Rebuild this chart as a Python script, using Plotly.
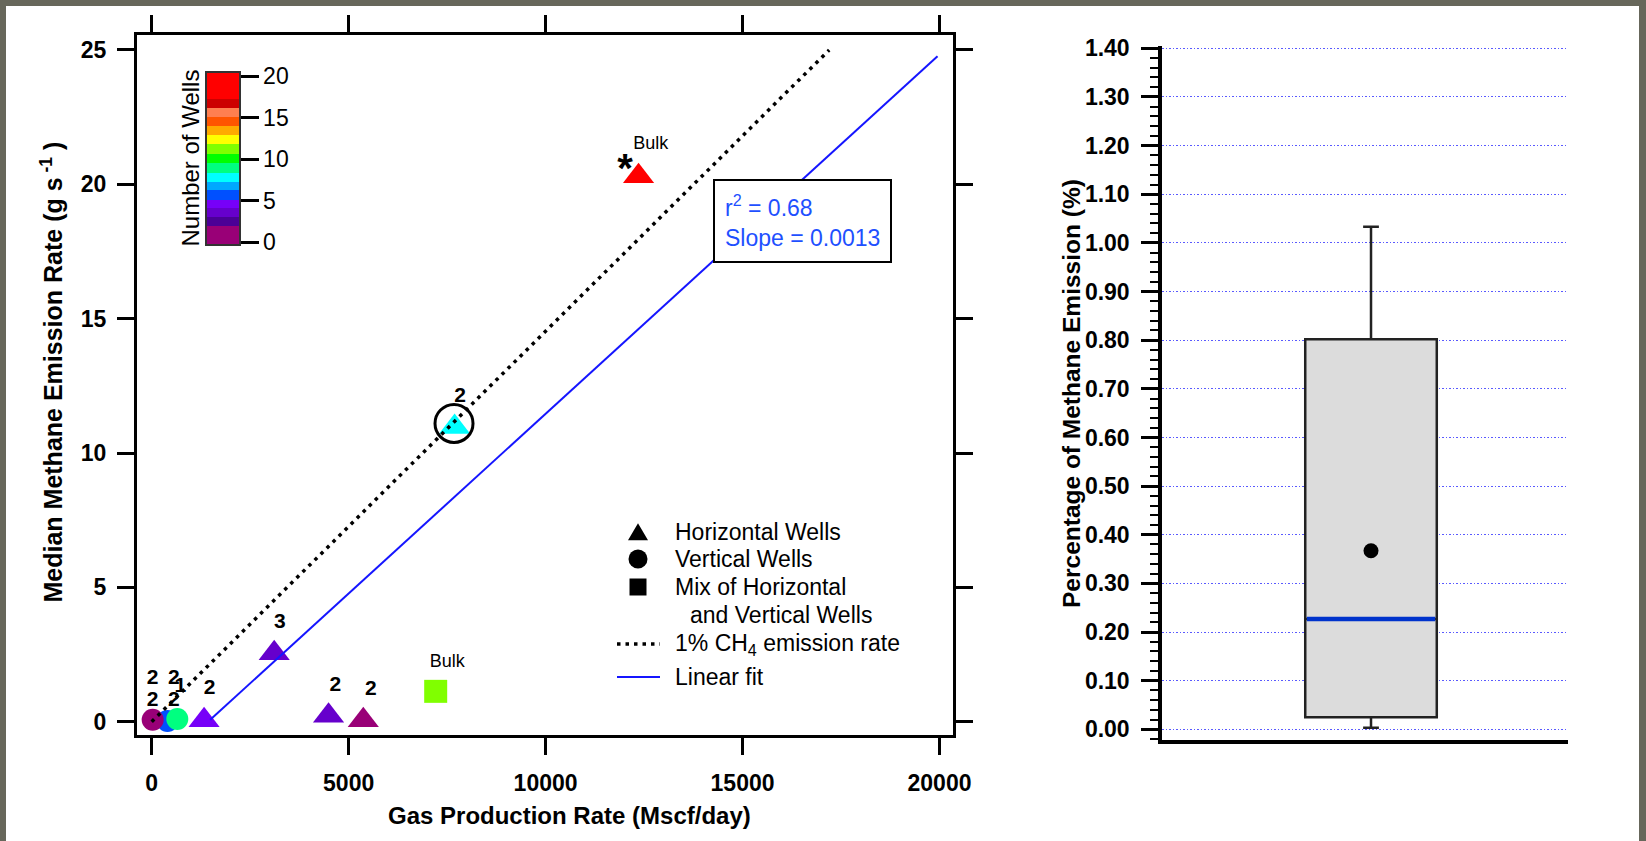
import plotly.graph_objects as go

W, H = 1646, 841


def px(x):
    return x / W


def py(y):
    return 1 - y / H


# ---------------- data (left panel) ----------------
# horizontal wells (triangles)
tri_x = [12360, 7690, 3110, 1330, 4490, 5372]
tri_y = [20.3, 10.97, 2.55, 0.05, 0.22, 0.05]
tri_wells = [20, 8, 4, 5, 4, 1]

# vertical wells (circles)
circ_x = [400, 25, 650]
circ_y = [0.03, 0.07, 0.10]
circ_wells = [6, 1, 9]

# mix of horizontal and vertical wells (squares)
sq_x = [7210]
sq_y = [1.13]
sq_wells = [11]

# highlighted point (open circle)
hl_x = [7675]
hl_y = [11.1]

# 1% CH4 emission line and linear fit
pct_x = [0, 17200]
pct_y = [0, 25]
fit_x = [1485, 19950]
fit_y = [0.07, 24.77]

# count labels above points
count_text = ['2', '2', '2', '2', '1', '2', '3', '2', '2', '2']
count_x = [20, 561, 20, 561, 726, 1472, 3252, 4661, 5563, 7827]
count_y = [1.60, 1.60, 0.78, 0.78, 1.29, 1.22, 3.69, 1.34, 1.18, 12.1]

bulk_text = ['Bulk', 'Bulk']
bulk_x = [12671, 7502]
bulk_y = [21.48, 2.20]

star_x = [12016]
star_y = [20.45]

x_ticks = [0, 5000, 10000, 15000, 20000]
y_ticks = [0, 5, 10, 15, 20, 25]
cb_ticks = [0, 5, 10, 15, 20]

fit_r2 = 0.68
fit_slope = 0.0013

# ---------------- data (right panel: box) ----------------
box_q1 = 0.025
box_median = 0.227
box_q3 = 0.802
box_low = 0.003
box_high = 1.033
box_mean = 0.367

# ---------------- styles ----------------
FONT = "Liberation Sans, Arial, sans-serif"
band_edges = [0, 0.107, 0.162, 0.214, 0.263, 0.316, 0.366, 0.419, 0.474,
              0.526, 0.581, 0.634, 0.686, 0.741, 0.793, 0.842, 1.0]
band_colors = ['#990077', '#4b0096', '#6600cc', '#7700f8', '#0050ff', '#00a8ff',
               '#00ffff', '#00ff80', '#00ff00', '#80ff00', '#ffff00', '#ffaa00',
               '#ff5500', '#ff7f50', '#cc0000', '#ff0000']
colorscale = []
for i, c in enumerate(band_colors):
    colorscale.append([band_edges[i], c])
    colorscale.append([band_edges[i + 1], c])

fig = go.Figure()

mk = dict(coloraxis='coloraxis', line=dict(width=0))
fig.add_trace(go.Scatter(x=circ_x, y=circ_y, mode='markers', showlegend=False,
                         marker=dict(symbol='circle', size=22, color=circ_wells, **mk)))
fig.add_trace(go.Scatter(x=tri_x, y=tri_y, mode='markers', showlegend=False,
                         marker=dict(symbol='triangle-up', size=27, color=tri_wells, **mk)))
fig.add_trace(go.Scatter(x=sq_x, y=sq_y, mode='markers', showlegend=False,
                         marker=dict(symbol='square', size=23, color=sq_wells, **mk)))
fig.add_trace(go.Scatter(x=hl_x, y=hl_y, mode='markers', showlegend=False,
                         marker=dict(symbol='circle-open', size=38, color='black',
                                     line=dict(width=3, color='black'))))
fig.add_trace(go.Scatter(x=pct_x, y=pct_y, mode='lines', showlegend=False,
                         line=dict(color='black', width=3.5, dash='3.5px,5px')))
fig.add_trace(go.Scatter(x=fit_x, y=fit_y, mode='lines', showlegend=False,
                         line=dict(color='#1515ff', width=2)))
fig.add_trace(go.Scatter(x=count_x, y=count_y, mode='text', text=count_text, showlegend=False,
                         textposition='middle center',
                         textfont=dict(family=FONT, size=21, weight='bold', color='black')))
fig.add_trace(go.Scatter(x=bulk_x, y=bulk_y, mode='text', text=bulk_text, showlegend=False,
                         textposition='middle center',
                         textfont=dict(family=FONT, size=18, color='black')))
fig.add_trace(go.Scatter(x=star_x, y=star_y, mode='text', text=['*'], showlegend=False,
                         textposition='middle center',
                         textfont=dict(family=FONT, size=40, weight='bold', color='black')))

# ---------------- right panel ----------------
box_width = 0.324
fig.add_trace(go.Box(x=[0], q1=[box_q1], median=[box_median], q3=[box_q3],
                     lowerfence=[box_low], upperfence=[box_high],
                     width=box_width, whiskerwidth=0.12, boxpoints=False,
                     fillcolor='#dcdcdc', line=dict(color='#222222', width=2.5),
                     xaxis='x2', yaxis='y2', showlegend=False, hoverinfo='skip'))
fig.add_trace(go.Scatter(x=[-box_width / 2 + 0.004, box_width / 2 - 0.004],
                         y=[box_median, box_median], mode='lines',
                         line=dict(color='#0033cc', width=4.5),
                         xaxis='x2', yaxis='y2', showlegend=False))
fig.add_trace(go.Scatter(x=[0], y=[box_mean], mode='markers',
                         marker=dict(color='black', size=15),
                         xaxis='x2', yaxis='y2', showlegend=False))

# ---------------- layout ----------------
tickfont_b = dict(family=FONT, size=23, weight='bold', color='black')
ax_common = dict(showline=True, linewidth=3, linecolor='black', mirror='allticks',
                 ticks='outside', ticklen=17, tickwidth=3, tickcolor='black',
                 showgrid=False, zeroline=False, tickfont=tickfont_b, automargin=False)

fig.update_layout(
    width=W, height=H, margin=dict(l=0, r=0, t=0, b=0, autoexpand=False),
    paper_bgcolor='#67675b', plot_bgcolor='rgba(0,0,0,0)',
    showlegend=False,
    xaxis=dict(domain=[px(137), px(953)], range=[-373, 20343], tickvals=x_ticks,
               tickformat='d', ticklabelstandoff=8, anchor='y', **ax_common),
    yaxis=dict(domain=[py(735), py(35)], range=[-0.495, 25.558], tickvals=y_ticks,
               ticklabelstandoff=6, anchor='x', **ax_common),
    xaxis2=dict(domain=[px(1162), px(1568)], range=[-0.5148, 0.4852], anchor='y2',
                showline=True, linewidth=3.5, linecolor='black', ticks='',
                showticklabels=False, showgrid=False, zeroline=False, automargin=False),
    yaxis2=dict(domain=[py(740), py(46.4)], range=[-0.022, 1.4039], anchor='x2',
                tick0=0, dtick=0.1, tickformat='.2f', automargin=False,
                showline=True, linewidth=3.5, linecolor='black',
                ticks='outside', ticklen=17, tickwidth=3, tickcolor='black',
                minor=dict(ticks='outside', ticklen=8, tickwidth=2, dtick=0.02,
                           tickcolor='black', showgrid=False),
                showgrid=True, gridcolor='#5a5aff', gridwidth=1, griddash='1.5px,2px',
                zeroline=False, ticklabelstandoff=7,
                tickfont=dict(family=FONT, size=23, weight='bold', color='black')),
    coloraxis=dict(
        cmin=-0.28, cmax=20.52, colorscale=colorscale, showscale=True,
        colorbar=dict(x=px(206), xanchor='left', y=py(71.7), yanchor='top',
                      len=173.3, lenmode='pixels', thickness=34, thicknessmode='pixels',
                      xpad=0, ypad=0, outlinewidth=2, outlinecolor='#333333',
                      borderwidth=0, bgcolor='rgba(0,0,0,0)',
                      tickvals=cb_ticks, ticks='outside', ticklen=18, tickwidth=3,
                      tickcolor='black', tickprefix='\u00a0\u200a',
                      tickfont=dict(family=FONT, size=23, color='black'))),
)

# white page inside dark frame
fig.add_shape(type='rect', xref='paper', yref='paper', x0=px(6), x1=px(1639),
              y0=0, y1=py(6), fillcolor='white', line=dict(width=0), layer='below')

# ---------------- manual legend ----------------
legend_labels = ['Horizontal Wells', 'Vertical Wells', 'Mix of Horizontal',
                 'and Vertical Wells', '1% CH<sub>4</sub> emission rate', 'Linear fit']
legend_text_pos = [(673, 531.7), (673, 559), (673, 587), (688, 615), (673, 644), (673, 677)]
for lab, (lx, ly) in zip(legend_labels, legend_text_pos):
    fig.add_annotation(text=lab, x=px(lx), y=py(ly), xref='paper', yref='paper',
                       xanchor='left', yanchor='middle', showarrow=False,
                       font=dict(family=FONT, size=23, color='black'))

sx = 638
fig.add_shape(type='path', xref='paper', yref='paper',
              path=f"M{px(sx-10)},{py(540.2)} L{px(sx+10)},{py(540.2)} L{px(sx)},{py(523.2)} Z",
              fillcolor='black', line=dict(width=0))
fig.add_shape(type='circle', xref='paper', yref='paper', x0=px(sx-9.5), x1=px(sx+9.5),
              y0=py(568.5), y1=py(549.5), fillcolor='black', line=dict(width=0))
fig.add_shape(type='rect', xref='paper', yref='paper', x0=px(sx-8.5), x1=px(sx+8.5),
              y0=py(595.5), y1=py(578.5), fillcolor='black', line=dict(width=0))
fig.add_shape(type='line', xref='paper', yref='paper', x0=px(617), x1=px(660),
              y0=py(644), y1=py(644), line=dict(color='black', width=3.5, dash='3.5px,5px'))
fig.add_shape(type='line', xref='paper', yref='paper', x0=px(617), x1=px(660),
              y0=py(677), y1=py(677), line=dict(color='#1515ff', width=2))

# fit statistics box
fig.add_annotation(text=f"r<sup>2</sup> = {fit_r2:.2f}<br>Slope = {fit_slope:.4f}",
                   x=px(802.7), y=py(221), xref='paper', yref='paper',
                   xanchor='center', yanchor='middle', align='left', showarrow=False,
                   font=dict(family=FONT, size=23, color='#1e50ff'),
                   bgcolor='white', bordercolor='black', borderwidth=2, borderpad=10)

# axis titles
title_common = dict(xref='paper', yref='paper', showarrow=False,
                    xanchor='center', yanchor='middle')
fig.add_annotation(text="Gas Production Rate (Mscf/day)", x=px(569), y=py(815),
                   font=dict(family=FONT, size=24, weight='bold', color='black'),
                   **title_common)
fig.add_annotation(text="Median Methane Emission Rate (g s<sup> -1</sup> )", x=px(51.5), y=py(372),
                   textangle=-90,
                   font=dict(family=FONT, size=25, weight='bold', color='black'),
                   **title_common)
fig.add_annotation(text="Percentage of Methane Emission (%)", x=px(1071), y=py(394),
                   textangle=-90,
                   font=dict(family=FONT, size=24.5, weight='bold', color='black'),
                   **title_common)
fig.add_annotation(text="Number of Wells", x=px(189.5), y=py(158), textangle=-90,
                   font=dict(family=FONT, size=24, color='black'),
                   **title_common)

fig.write_html("out.html")
